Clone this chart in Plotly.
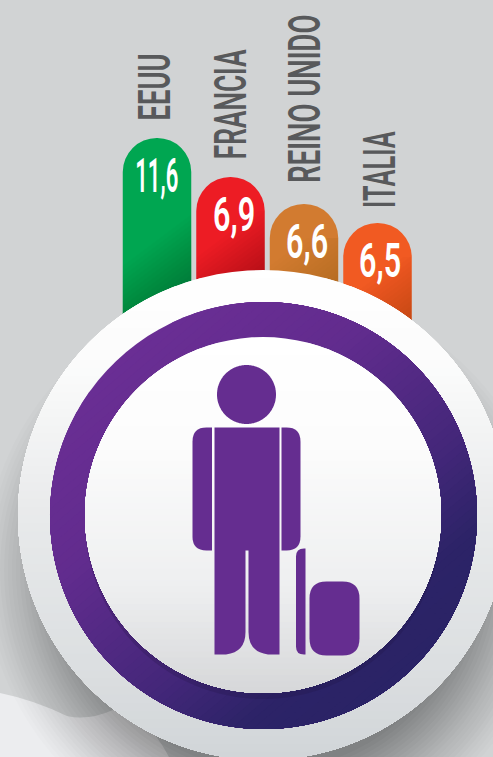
import json
import math
import plotly.graph_objects as go

W, H = 493, 757

# ---- data ----
countries = ["EEUU", "FRANCIA", "REINO UNIDO", "ITALIA"]
values = [11.6, 6.9, 6.6, 6.5]
# The source graphic's bars are not proportional to the printed values, so the
# drawn lengths are read separately (in picture pixels above the hidden base).
drawn_lengths = [202, 163, 136, 117]
bar_colors = ["#00a651", "#ed1c24", "#d27b30", "#f15a22"]
value_labels = [f"{v:.1f}".replace(".", ",") for v in values]

BG = "#d1d3d4"
GREY = "#58595b"
PURPLE = "#652d90"
FONT = "Roboto, Liberation Sans, Arial, sans-serif"

BASE_Y = 340
PITCH = 73.5
LEFT = 157 - PITCH / 2
BAR_W = 68.5


def pt(x, y):
    return f"{x / W:.5f},{1 - y / H:.5f}"


def poly(points):
    return "M" + " L".join(pt(x, y) for x, y in points) + " Z"


def lerp_color(stops, t):
    t = max(0, min(1, t))
    for (t0, c0), (t1, c1) in zip(stops, stops[1:]):
        if t <= t1:
            f = (t - t0) / (t1 - t0)
            rgb = [int(c0[i:i + 2], 16) + f * (int(c1[i:i + 2], 16) - int(c0[i:i + 2], 16)) for i in (1, 3, 5)]
            return "#%02x%02x%02x" % tuple(round(v) for v in rgb)
    return stops[-1][1]


def add_path(shapes, path, color, layer="above", opacity=1):
    shapes.append(dict(type="path", path=path, xref="paper", yref="paper", fillcolor=color,
                       line=dict(width=0), layer=layer, opacity=opacity))


def disc(shapes, cx, cy, r, color, layer="above", opacity=1):
    pts = [(cx + r * math.cos(a * math.pi / 90), cy + r * math.sin(a * math.pi / 90)) for a in range(180)]
    add_path(shapes, poly(pts), color, layer, opacity)


def gradient_disc(shapes, cx, cy, r, stops, angle_deg, steps=60):
    a0 = math.radians(angle_deg)
    for i in range(steps):
        t = -r + 2 * r * i / steps
        half = math.acos(max(-1, min(1, t / r)))
        pts = []
        n = 100
        for k in range(n + 1):
            a = a0 - half + 2 * half * k / n
            pts.append((cx + r * math.cos(a), cy + r * math.sin(a)))
        add_path(shapes, poly(pts), lerp_color(stops, (i + 0.5) / steps))


def rrect(x0, y0, x1, y1, tl=0, tr=0, br=0, bl=0):
    return (f"M{pt(x0 + tl, y0)} L{pt(x1 - tr, y0)} Q{pt(x1, y0)} {pt(x1, y0 + tr)} "
            f"L{pt(x1, y1 - br)} Q{pt(x1, y1)} {pt(x1 - br, y1)} "
            f"L{pt(x0 + bl, y1)} Q{pt(x0, y1)} {pt(x0, y1 - bl)} "
            f"L{pt(x0, y0 + tl)} Q{pt(x0, y0)} {pt(x0 + tl, y0)} Z")


def clip_half(rect, dx, dy, t):
    """Polygon of a rectangle clipped to the half plane dx*x+dy*y >= t."""
    out = []
    n = len(rect)
    for i in range(n):
        a, b = rect[i], rect[(i + 1) % n]
        da = dx * a[0] + dy * a[1] - t
        db = dx * b[0] + dy * b[1] - t
        if da >= 0:
            out.append(a)
        if da * db < 0:
            f = da / (da - db)
            out.append((a[0] + f * (b[0] - a[0]), a[1] + f * (b[1] - a[1])))
    return out


shapes = []

# ---- backdrop: pale wave and the disc's soft shadow ----
wave = (f"M{pt(0, 693)} Q{pt(34, 700)} {pt(67, 716)} Q{pt(88, 721)} {pt(113, 710)} "
        f"L{pt(140, 720)} Q{pt(158, 735)} {pt(169, 757)} L{pt(0, 757)} Z")
add_path(shapes, wave, "#ecedef", layer="below")
for i in range(22):
    disc(shapes, 268, 570, 284 - i * 4, "#000000", layer="below", opacity=0.011 + 0.0008 * i)

# ---- darkening toward the lower right of each bar, above the bar ----
shade_start = [240, 232, 240, 276]
shade_alpha = [0.016, 0.017, 0.008, 0.011]
for i, length in enumerate(drawn_lengths):
    cx = LEFT + PITCH * (i + 0.5)
    x0, x1 = cx - BAR_W / 2, cx + BAR_W / 2
    y0 = BASE_Y - length + 34
    rect = [(x0, y0), (x1, y0), (x1, BASE_Y), (x0, BASE_Y)]
    dx, dy = 0.6, 0.8
    ref = dx * cx + dy * shade_start[i]
    for k in range(14):
        poly_pts = clip_half(rect, dx, dy, ref + k * 4)
        if len(poly_pts) > 2:
            add_path(shapes, poly(poly_pts), "#000000", opacity=shade_alpha[i])

# ---- medallion ----
gradient_disc(shapes, 263, 515, 245,
              [(0, "#ffffff"), (0.2, "#fbfbfb"), (0.5, "#e8eaeb"), (0.8, "#dcdfe1"), (1, "#d1d5d8")], 90)
gradient_disc(shapes, 263.5, 515.5, 213.5,
              [(0, "#6a2e94"), (0.3, "#622c8e"), (0.65, "#44277a"), (0.85, "#2c2367"), (1, "#2a2366")], 50)
disc(shapes, 263, 521, 178, "#1f1240", opacity=0.22)
gradient_disc(shapes, 263, 515, 178,
              [(0, "#ffffff"), (0.3, "#fcfcfc"), (0.7, "#eeeff0"), (1, "#d6d7d9")], 90)

# ---- traveller pictogram ----
disc(shapes, 246.5, 394.5, 29.5, PURPLE)
add_path(shapes, rrect(192.5, 427.5, 212, 550.5, tl=14, bl=14), PURPLE)
add_path(shapes, rrect(281.5, 427.5, 300.5, 550.5, tr=14, br=14), PURPLE)
body = (f"M{pt(214.5, 427.5)} L{pt(279.5, 427.5)} L{pt(279.5, 654.5)} L{pt(268, 654.5)} "
        f"Q{pt(248.5, 652)} {pt(248.5, 632)} L{pt(248.5, 550.5)} L{pt(245.5, 550.5)} L{pt(245.5, 632)} "
        f"Q{pt(245.5, 652)} {pt(226, 654.5)} L{pt(214.5, 654.5)} Z")
add_path(shapes, body, PURPLE)
add_path(shapes, rrect(296, 548.5, 305.5, 654.5, tl=8, bl=8), PURPLE)
add_path(shapes, rrect(309.5, 581.5, 359.5, 655.5, tl=17, tr=17, br=17, bl=17), PURPLE)

# ---- bars and labels ----
fig = go.Figure(go.Bar(x=countries, y=drawn_lengths, marker=dict(color=bar_colors, line=dict(width=0)),
                       hoverinfo="skip"))

# placement of labels relative to each bar's top, and the condensed lengths of the lettering
name_up = [50.5, 72, 105, 53.5]
name_dx = [-2.5, 0, 0.5, 2.5]
value_dx = [-0.5, 3, 3, 2.5]
fit_widths = {"EEUU": 67, "FRANCIA": 110, "REINO UNIDO": 168, "ITALIA": 77,
              "11,6": 43, "6,9": 42, "6,6": 42, "6,5": 42}

annotations = []
for c, length, lab, up, ndx, vdx in zip(countries, drawn_lengths, value_labels, name_up, name_dx, value_dx):
    annotations.append(dict(x=c, y=length, xref="x", yref="y", text=lab, showarrow=False,
                            xanchor="center", yanchor="middle", yshift=-37, xshift=vdx,
                            font=dict(family=FONT, size=48, color="#ffffff", weight=600)))
    annotations.append(dict(x=c, y=length, xref="x", yref="y", text=c, showarrow=False, textangle=-90,
                            xanchor="center", yanchor="middle", yshift=up, xshift=ndx,
                            font=dict(family=FONT, size=45, color=GREY, weight=600)))

fig.update_layout(
    width=W, height=H, autosize=False,
    margin=dict(l=0, r=0, t=0, b=0, pad=0),
    paper_bgcolor=BG, plot_bgcolor="rgba(0,0,0,0)",
    showlegend=False, bargap=1 - BAR_W / PITCH,
    xaxis=dict(domain=[LEFT / W, (LEFT + 4 * PITCH) / W], range=[-0.5, 3.5], visible=False, type="category",
               categoryorder="array", categoryarray=countries, fixedrange=True),
    yaxis=dict(domain=[0, 1], range=[BASE_Y - H, BASE_Y], visible=False, fixedrange=True),
    shapes=shapes, annotations=annotations,
    barcornerradius=34,
)

# The reference lettering is a tall condensed face; none is installed, so the real
# text is squeezed along its own direction to the measured lengths.
post = """
document.body.style.margin='0';
var FIT = %s;
function fitText(){
  document.querySelectorAll('.annotation text').forEach(function(el){
    var w = FIT[el.textContent];
    if(!w) return;
    var b = el.getBBox();
    var c = b.x + b.width/2;
    el.setAttribute('transform','translate('+c+',0) scale('+(w/b.width)+',1) translate('+(-c)+',0)');
  });
}
fitText();
setTimeout(fitText, 50);
var gd = document.querySelector('.plotly-graph-div');
if(gd && gd.on){ gd.on('plotly_afterplot', fitText); }
""" % json.dumps(fit_widths)

fig.write_html("out.html", config=dict(displayModeBar=False), post_script=post)
